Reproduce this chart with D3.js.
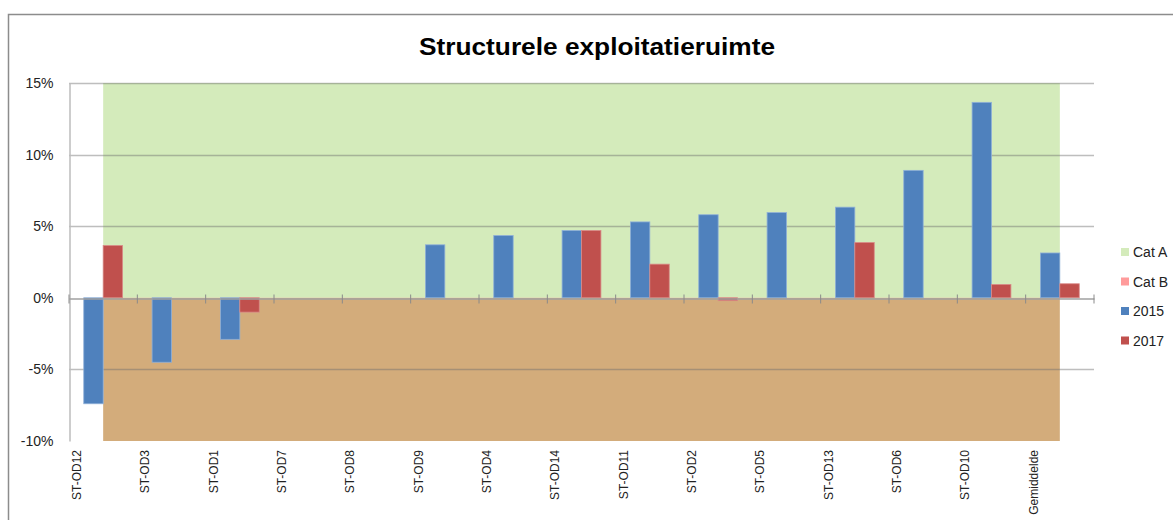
<!DOCTYPE html>
<html>
<head>
<meta charset="utf-8">
<script src="https://cdn.jsdelivr.net/npm/d3@7"></script>
<style>
  body { margin: 0; background: #fff; }
  text { font-family: "Liberation Sans", Arial, sans-serif; }
</style>
</head>
<body>
<div id="chart"></div>
<script>
// data
var categories = ["ST-OD12","ST-OD3","ST-OD1","ST-OD7","ST-OD8","ST-OD9","ST-OD4","ST-OD14",
                  "ST-OD11","ST-OD2","ST-OD5","ST-OD13","ST-OD6","ST-OD10","Gemiddelde"];
var v2015 = [-7.4, -4.5, -2.9, 0, 0, 3.7, 4.35, 4.7, 5.3, 5.8, 5.95, 6.33, 8.9, 13.65, 3.13];
var v2017 = [3.65, 0, -1.0, 0, 0, 0, 0, 4.7, 2.35, -0.2, 0, 3.86, 0, 0.93, 0.98];
var catA = 15;   // upper band
var catB = -10;  // lower band
var yTicks = [15, 10, 5, 0, -5, -10];
var seriesNames = ["2015", "2017"];
var legendItems = ["Cat A", "Cat B", "2015", "2017"];

var W = 1173, H = 520;
var margin = {top: 83, left: 69, right: 79, bottom: 79};

var svg = d3.select("#chart").append("svg")
    .attr("width", W)
    .attr("height", H);

// outer chart frame
svg.append("rect")
    .attr("x", 8.5).attr("y", 14.5)
    .attr("width", 1180).attr("height", 520)
    .attr("fill", "none")
    .attr("stroke", "#8c8c8c")
    .attr("stroke-width", 1.5);

svg.append("text")
    .attr("x", 597).attr("y", 55)
    .attr("text-anchor", "middle")
    .attr("textLength", 356)
    .attr("lengthAdjust", "spacingAndGlyphs")
    .style("font-size", "24px")
    .style("font-weight", "bold")
    .text("Structurele exploitatieruimte");

var x = d3.scaleBand()
    .domain(categories)
    .range([margin.left, W - margin.right])
    .paddingInner(0).paddingOuter(0);

var x1 = d3.scaleBand()
    .domain(seriesNames)
    .range([0, x.bandwidth()])
    .paddingInner(0).paddingOuter(0.76);

var y = d3.scaleLinear()
    .domain([-10, 15])
    .range([H - margin.bottom, margin.top]);

var colors = {"Cat A": "#d4ebbb", "Cat B": "#ff9b9b", "2015": "#4f81bd", "2017": "#c0504d"};

// Cat A / Cat B areas (from first to last category centre)
var cx = function(d) { return x(d) + x.bandwidth() / 2; };
var areaA = d3.area().x(cx).y0(y(0)).y1(y(catA));
var areaB = d3.area().x(cx).y0(y(0)).y1(y(catB));

svg.append("path").datum(categories).attr("d", areaA).attr("fill", colors["Cat A"]);
svg.append("path").datum(categories).attr("d", areaB).attr("fill", "#d3ac7b");

// gridlines
svg.append("g")
  .selectAll("line")
  .data(yTicks.filter(function(t) { return t !== 0 && t !== -10; }))
  .enter().append("line")
    .attr("x1", margin.left).attr("x2", W - margin.right)
    .attr("y1", function(d) { return Math.round(y(d)) + 0.5; })
    .attr("y2", function(d) { return Math.round(y(d)) + 0.5; })
    .attr("stroke", "#6e6e6e")
    .attr("stroke-opacity", 0.45)
    .attr("stroke-width", 1.5);

// y axis
var yAxis = svg.append("g")
    .attr("transform", "translate(" + (margin.left + 0.5) + ",0)")
    .call(d3.axisLeft(y).tickValues(yTicks).tickSize(0).tickPadding(16)
          .tickFormat(function(d) { return d + "%"; }));
yAxis.select(".domain").attr("stroke", "#bdbdbd").attr("stroke-width", 1.5);
yAxis.selectAll("text").style("font-size", "14px").attr("fill", "#222");

// bars
var rows = categories.map(function(c, i) { return {cat: c, vals: [v2015[i], v2017[i]]}; });
svg.append("g")
  .selectAll("g")
  .data(rows)
  .enter().append("g")
    .attr("transform", function(d) { return "translate(" + x(d.cat) + ",0)"; })
  .selectAll("rect")
  .data(function(d) { return d.vals.map(function(v, k) { return {key: seriesNames[k], v: v}; }); })
  .enter().append("rect")
    .filter(function(d) { return d.v !== 0; })
    .attr("x", function(d) { return x1(d.key); })
    .attr("width", x1.bandwidth())
    .attr("y", function(d) { return y(Math.max(0, d.v)); })
    .attr("height", function(d) { return Math.abs(y(d.v) - y(0)); })
    .attr("fill", function(d) { return colors[d.key]; })
    .attr("stroke", function(d) { return d.key === "2015" ? "#8fb0d8" : "#d98a88"; })
    .attr("stroke-width", 0.8);

// x axis at 0 with crossing ticks
var xAxis = svg.append("g")
    .attr("transform", "translate(0," + (Math.round(y(0)) + 0.5) + ")")
    .call(d3.axisBottom(x).tickSize(0).tickFormat(""));
xAxis.select(".domain").attr("stroke", "#a0a0a0").attr("stroke-width", 1.5);
xAxis.selectAll(".tick").remove();
xAxis.selectAll(".xt")
  .data(categories.concat(["end"]))
  .enter().append("line")
    .attr("x1", function(d, i) { return margin.left + i * x.step(); })
    .attr("x2", function(d, i) { return margin.left + i * x.step(); })
    .attr("y1", -4).attr("y2", 5)
    .attr("stroke", "#8a8a8a")
    .attr("stroke-width", 1);

// category labels at the bottom, rotated
svg.append("g")
  .selectAll("text")
  .data(categories)
  .enter().append("text")
    .attr("transform", function(d) {
      return "translate(" + (x(d) + 12) + "," + (y(-10) + 9) + ") rotate(-90)";
    })
    .attr("text-anchor", "end")
    .style("font-size", "12px")
    .attr("fill", "#222")
    .text(function(d) { return d; });

// legend
var legend = svg.append("g").attr("transform", "translate(1121,252)");
var li = legend.selectAll("g")
  .data(legendItems)
  .enter().append("g")
    .attr("transform", function(d, i) { return "translate(0," + (i * 29.5) + ")"; });
li.append("rect")
    .attr("x", 0).attr("y", -4)
    .attr("width", 8).attr("height", 8)
    .attr("fill", function(d) { return colors[d]; });
li.append("text")
    .attr("x", 12).attr("y", 5)
    .style("font-size", "14px")
    .attr("fill", "#222")
    .text(function(d) { return d; });
</script>
</body>
</html>
